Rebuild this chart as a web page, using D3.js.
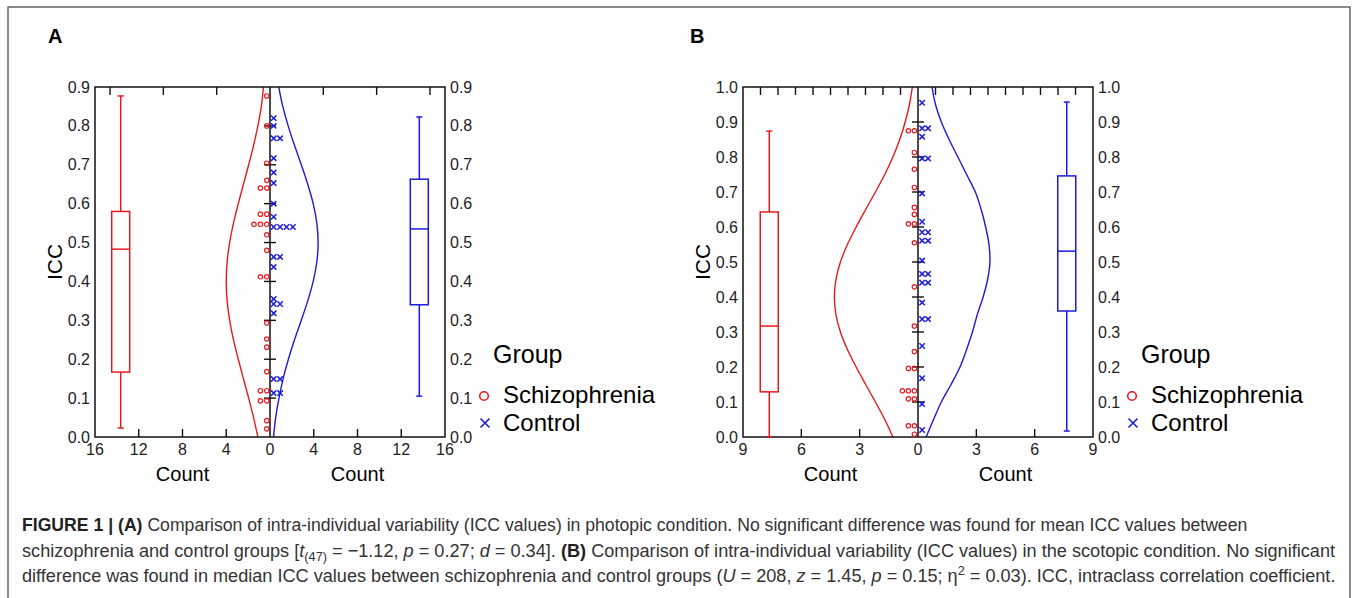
<!DOCTYPE html>
<html>
<head>
<meta charset="utf-8">
<script src="https://cdn.jsdelivr.net/npm/d3@7"></script>
<style>
    body { margin: 0; background: #fff; }
    svg { display: block; }
    text { font-family: "Liberation Sans", Arial, sans-serif; }
</style>
</head>
<body>
<svg id="figure" width="1357" height="598"></svg>
<script>
// ---- data ----
const icc_grid_a = [0, 0.05, 0.1, 0.15, 0.2, 0.25, 0.3, 0.35, 0.4, 0.45, 0.5, 0.55, 0.6, 0.65, 0.7, 0.75, 0.8, 0.85, 0.9];
const schiz_curve_a = [1.11, 1.5, 1.95, 2.43, 2.9, 3.34, 3.69, 3.92, 4.0, 3.92, 3.69, 3.34, 2.9, 2.43, 1.95, 1.5, 1.11, 0.79, 0.6];
const control_curve_a = [0.32, 0.52, 0.82, 1.2, 1.68, 2.24, 2.86, 3.45, 3.95, 4.28, 4.4, 4.28, 3.95, 3.45, 2.86, 2.24, 1.66, 1.17, 0.8];

const icc_grid_b = [0, 0.05, 0.1, 0.15, 0.2, 0.25, 0.3, 0.35, 0.4, 0.45, 0.5, 0.55, 0.6, 0.65, 0.7, 0.75, 0.8, 0.85, 0.9, 0.95, 1.0];
const schiz_curve_b = [1.29, 1.71, 2.19, 2.69, 3.18, 3.63, 3.99, 4.22, 4.3, 4.22, 3.99, 3.63, 3.18, 2.69, 2.19, 1.71, 1.29, 0.94, 0.66, 0.44, 0.29];
const control_curve_b = [0.42, 0.8, 1.2, 1.7, 2.16, 2.5, 2.8, 3.05, 3.35, 3.58, 3.7, 3.65, 3.48, 3.25, 2.95, 2.5, 2.05, 1.6, 1.2, 0.9, 0.72];

const schiz_points_a = [0.877, 0.80, 0.704, 0.66, 0.64, 0.64, 0.573, 0.573, 0.547, 0.547, 0.547, 0.52, 0.48,
    0.412, 0.412, 0.293, 0.252, 0.231, 0.168, 0.119, 0.119, 0.093, 0.093, 0.042, 0.021];
const control_points_a = [0.82, 0.80, 0.768, 0.768, 0.717, 0.68, 0.653, 0.60, 0.566, 0.54, 0.54, 0.54, 0.54,
    0.463, 0.463, 0.437, 0.355, 0.342, 0.342, 0.318, 0.149, 0.149, 0.113, 0.113];

const schiz_points_b = [0.875, 0.875, 0.813, 0.765, 0.713, 0.656, 0.636, 0.609, 0.609, 0.555,
    0.429, 0.317, 0.244, 0.196, 0.196, 0.132, 0.132, 0.132, 0.109, 0.109, 0.032, 0.032, 0.008];
const control_points_b = [0.955, 0.882, 0.882, 0.858, 0.796, 0.796, 0.696, 0.615, 0.585, 0.585, 0.561, 0.561, 0.504,
    0.466, 0.466, 0.441, 0.441, 0.384, 0.337, 0.337, 0.26, 0.168, 0.094, 0.02];

// [whisker low, q1, median, q3, whisker high]
const schiz_box_a = [0.023, 0.167, 0.483, 0.58, 0.877];
const control_box_a = [0.105, 0.34, 0.535, 0.663, 0.823];
const schiz_box_b = [0.0, 0.129, 0.317, 0.643, 0.874];
const control_box_b = [0.017, 0.36, 0.531, 0.746, 0.957];

const icc_ticks_a = [0, 0.1, 0.2, 0.3, 0.4, 0.5, 0.6, 0.7, 0.8, 0.9];
const icc_ticks_b = [0, 0.1, 0.2, 0.3, 0.4, 0.5, 0.6, 0.7, 0.8, 0.9, 1.0];
const count_ticks_a = [-16, -12, -8, -4, 0, 4, 8, 12, 16];
const count_ticks_b = [-9, -6, -3, 0, 3, 6, 9];

const legend_labels = ["Schizophrenia", "Control"];

const caption_lines = [
    [["FIGURE 1 | ", "b"], ["(A)", "b"], [" Comparison of intra-individual variability (ICC values) in photopic condition. No significant difference was found for mean ICC values between", ""]],
    [["schizophrenia and control groups [", ""], ["t", "i"], ["(47)", "sub"], [" = \u22121.12, ", ""], ["p", "i"], [" = 0.27; ", ""], ["d", "i"], [" = 0.34]. ", ""], ["(B)", "b"],
        [" Comparison of intra-individual variability (ICC values) in the scotopic condition. No significant", ""]],
    [["difference was found in median ICC values between schizophrenia and control groups (", ""], ["U", "i"], [" = 208, ", ""], ["z", "i"], [" = 1.45, ", ""], ["p", "i"],
        [" = 0.15; \u03b7", ""], ["2", "sup"], [" = 0.03). ICC, intraclass correlation coefficient.", ""]]
];

const RED = "#e8191e";
const BLUE = "#1b1bdd";

const svg = d3.select("#figure");

// outer frame of the figure
svg.append("path")
    .attr("d", "M8,598V7H1350V598")
    .attr("fill", "none")
    .attr("stroke", "#666")
    .attr("stroke-width", 1.5);

function draw_panel(cfg) {
    const g = svg.append("g");
    const x = d3.scaleLinear().domain([-cfg.max_count, cfg.max_count]).range([cfg.left, cfg.right]);
    const y = d3.scaleLinear().domain([0, cfg.max_icc]).range([437, 87]);
    const x0 = x(0);

    g.append("text")
        .attr("x", cfg.letter_x).attr("y", 43)
        .attr("font-size", 20).attr("font-weight", "bold")
        .text(cfg.letter);

    const clip_id = "clip-" + cfg.letter;
    g.append("clipPath").attr("id", clip_id)
        .append("rect")
        .attr("x", cfg.left).attr("y", 87)
        .attr("width", cfg.right - cfg.left).attr("height", 350);

    // fitted distribution curves
    const line = d3.line().curve(d3.curveCatmullRom);
    g.append("path")
        .attr("d", line(cfg.grid.map((v, i) => [x(-cfg.schiz_curve[i]), y(v)])))
        .attr("fill", "none").attr("stroke", RED).attr("stroke-width", 1.4)
        .attr("clip-path", `url(#${clip_id})`);
    g.append("path")
        .attr("d", line(cfg.grid.map((v, i) => [x(cfg.control_curve[i]), y(v)])))
        .attr("fill", "none").attr("stroke", BLUE).attr("stroke-width", 1.4)
        .attr("clip-path", `url(#${clip_id})`);

    // frame
    g.append("rect")
        .attr("x", cfg.left).attr("y", 87)
        .attr("width", cfg.right - cfg.left).attr("height", 350)
        .attr("fill", "none").attr("stroke", "#111").attr("stroke-width", 1.5);

    // centre line with ICC ticks
    g.append("line")
        .attr("x1", x0).attr("x2", x0).attr("y1", 87).attr("y2", 437)
        .attr("stroke", "#111").attr("stroke-width", 1.5);
    g.selectAll(".ctick").data(cfg.icc_ticks.slice(1, -1)).enter().append("line")
        .attr("x1", x0 - 6).attr("x2", x0 + 6)
        .attr("y1", d => y(d)).attr("y2", d => y(d))
        .attr("stroke", "#111").attr("stroke-width", 1.4);

    // bottom count ticks (inward)
    g.selectAll(".btick").data(cfg.count_ticks.filter(d => Math.abs(d) !== 0 && Math.abs(d) !== cfg.max_count)).enter().append("line")
        .attr("x1", d => x(d)).attr("x2", d => x(d))
        .attr("y1", 437).attr("y2", 429)
        .attr("stroke", "#111").attr("stroke-width", 1.4);

    // top ticks
    const top_ticks = d3.range(1, Math.floor(cfg.max_count / cfg.top_step + 1e-6) + 1)
        .flatMap(k => [-k * cfg.top_step, k * cfg.top_step])
        .filter(d => Math.abs(d) < cfg.max_count - 1e-6);
    g.selectAll(".ttick").data(top_ticks).enter().append("line")
        .attr("x1", d => x(d)).attr("x2", d => x(d))
        .attr("y1", 87).attr("y2", 95)
        .attr("stroke", "#111").attr("stroke-width", 1.4);

    // tick labels
    const fmt = d3.format(".1f");
    g.selectAll(".ylab-l").data(cfg.icc_ticks).enter().append("text")
        .attr("x", cfg.left - 5).attr("y", d => y(d) + 5.5)
        .attr("text-anchor", "end").attr("font-size", 16).attr("fill", "#222")
        .text(fmt);
    g.selectAll(".ylab-r").data(cfg.icc_ticks).enter().append("text")
        .attr("x", cfg.right + 5).attr("y", d => y(d) + 5.5)
        .attr("font-size", 16).attr("fill", "#222")
        .text(fmt);
    g.selectAll(".xlab").data(cfg.count_ticks).enter().append("text")
        .attr("x", d => x(d)).attr("y", 455)
        .attr("text-anchor", "middle").attr("font-size", 16).attr("fill", "#222")
        .text(d => Math.abs(d));

    g.append("text")
        .attr("x", (cfg.left + x0) / 2).attr("y", 481)
        .attr("text-anchor", "middle").attr("font-size", 20)
        .text("Count");
    g.append("text")
        .attr("x", (cfg.right + x0) / 2).attr("y", 481)
        .attr("text-anchor", "middle").attr("font-size", 20)
        .text("Count");
    g.append("text")
        .attr("transform", `translate(${cfg.left - 33},${(87 + 437) / 2}) rotate(-90)`)
        .attr("text-anchor", "middle").attr("font-size", 21)
        .text("ICC");

    // stacked dots
    function stack(values) {
        const seen = new Map();
        return values.map(v => {
            const i = seen.get(v) || 0;
            seen.set(v, i + 1);
            return { v: v, i: i };
        });
    }
    g.selectAll(".sdot").data(stack(cfg.schiz_points)).enter().append("circle")
        .attr("cx", d => x0 - cfg.dot_first - d.i * cfg.dot_step)
        .attr("cy", d => y(d.v))
        .attr("r", 2.2)
        .attr("fill", "none").attr("stroke", RED).attr("stroke-width", 1.2);
    g.selectAll(".cdot").data(stack(cfg.control_points)).enter().append("path")
        .attr("transform", d => `translate(${x0 + cfg.dot_first + 0.5 + d.i * cfg.dot_step},${y(d.v)})`)
        .attr("d", "M-2.7,-2.7L2.7,2.7M-2.7,2.7L2.7,-2.7")
        .attr("stroke", BLUE).attr("stroke-width", 1.5);

    // box plots
    function box(stats, cx, color) {
        const w = 18, cap = 6;
        const b = g.append("g").attr("stroke", color).attr("stroke-width", 1.5).attr("fill", "none");
        b.append("line").attr("x1", cx).attr("x2", cx).attr("y1", y(stats[0])).attr("y2", y(stats[1]));
        b.append("line").attr("x1", cx).attr("x2", cx).attr("y1", y(stats[3])).attr("y2", y(stats[4]));
        b.append("line").attr("x1", cx - cap / 2).attr("x2", cx + cap / 2).attr("y1", y(stats[0])).attr("y2", y(stats[0]));
        b.append("line").attr("x1", cx - cap / 2).attr("x2", cx + cap / 2).attr("y1", y(stats[4])).attr("y2", y(stats[4]));
        b.append("rect").attr("x", cx - w / 2).attr("width", w)
            .attr("y", y(stats[3])).attr("height", y(stats[1]) - y(stats[3]));
        b.append("line").attr("x1", cx - w / 2).attr("x2", cx + w / 2).attr("y1", y(stats[2])).attr("y2", y(stats[2]));
    }
    box(cfg.schiz_box, x(-cfg.box_count), RED);
    box(cfg.control_box, x(cfg.box_count), BLUE);

    // legend
    const lx = cfg.right + 48;
    g.append("text").attr("x", lx).attr("y", 363).attr("font-size", 25).text("Group");
    g.append("circle").attr("cx", lx - 9).attr("cy", 396).attr("r", 4.3)
        .attr("fill", "none").attr("stroke", RED).attr("stroke-width", 1.6);
    g.append("path").attr("transform", `translate(${lx - 8},423)`)
        .attr("d", "M-4.5,-4.5L4.5,4.5M-4.5,4.5L4.5,-4.5")
        .attr("stroke", BLUE).attr("stroke-width", 1.6);
    g.selectAll(".leg").data(legend_labels).enter().append("text")
        .attr("x", lx + 10).attr("y", (d, i) => 403 + i * 28)
        .attr("font-size", 24).text(d => d);
}

draw_panel({
    letter: "A", letter_x: 48, left: 95, right: 445, max_count: 16, max_icc: 0.9, top_step: 4.875,
    grid: icc_grid_a, schiz_curve: schiz_curve_a, control_curve: control_curve_a,
    schiz_points: schiz_points_a, control_points: control_points_a,
    schiz_box: schiz_box_a, control_box: control_box_a, box_count: 13.65,
    icc_ticks: icc_ticks_a, count_ticks: count_ticks_a, dot_first: 3.2, dot_step: 6.4
});
draw_panel({
    letter: "B", letter_x: 690, left: 743, right: 1093, max_count: 9, max_icc: 1.0, top_step: 0.9,
    grid: icc_grid_b, schiz_curve: schiz_curve_b, control_curve: control_curve_b,
    schiz_points: schiz_points_b, control_points: control_points_b,
    schiz_box: schiz_box_b, control_box: control_box_b, box_count: 7.65,
    icc_ticks: icc_ticks_b, count_ticks: count_ticks_b, dot_first: 3.6, dot_step: 6
});

// caption, each line squeezed to the width it has in the figure
const line_ends = [1248, 1336, 1337];
const caption = svg.append("g");
caption_lines.forEach((segs, li) => {
    const t = caption.append("text").attr("font-size", 18.5).attr("fill", "#333");
    let shift = 0;
    segs.forEach(([s, style]) => {
        const span = t.append("tspan").text(s);
        let want = 0;
        if (style === "b") span.attr("font-weight", "bold").attr("fill", "#222");
        if (style === "i") span.attr("font-style", "italic");
        if (style === "sub") { span.attr("font-size", 13); want = 4; }
        if (style === "sup") { span.attr("font-size", 13); want = -7; }
        if (want !== shift) { span.attr("dy", want - shift); shift = want; }
    });
    const w = t.node().getComputedTextLength();
    const k = (line_ends[li] - 22) / w;
    t.attr("transform", `translate(22,${531 + li * 25.5}) scale(${k},1)`);
});
</script>
</body>
</html>
